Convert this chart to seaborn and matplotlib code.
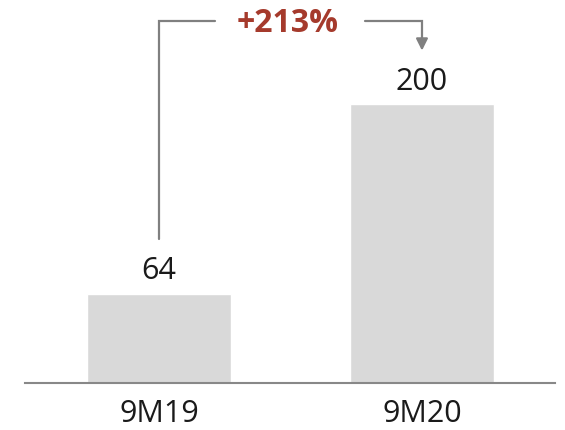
import numpy as np
import pandas as pd
import matplotlib.pyplot as plt
import seaborn as sns

# data
periods = ['9M19', '9M20']
values = [64, 200]
change_label = '+213%'

df = pd.DataFrame({'period': periods, 'value': values})

sns.set_style('white')
plt.rcParams['font.family'] = ['Open Sans', 'DejaVu Sans']

fig = plt.figure(figsize=(5.65, 4.31), dpi=100)
ax = fig.add_axes([25 / 565, 1 - 384 / 431, 530 / 565, 384 / 431])

sns.barplot(x='period', y='value', data=df, color='#d9d9d9', saturation=1,
            width=0.55, ax=ax)

# value labels above bars
ax.bar_label(ax.containers[0], labels=[str(v) for v in values],
             fontsize=22, color='#1a1a1a', padding=6)

ax.set_xlim(-0.51, 1.506)
ax.set_ylim(0, 275.5)
ax.set_xlabel('')
ax.set_ylabel('')
ax.set_yticks([])
ax.tick_params(axis='x', length=0, pad=11, labelsize=22, labelcolor='#1a1a1a')

for s in ['top', 'left', 'right']:
    ax.spines[s].set_visible(False)
ax.spines['bottom'].set_color('#888888')
ax.spines['bottom'].set_linewidth(1.5)

# growth bracket
line_col = '#808080'
y_top = 260
ax.plot([0, 0, 0.213], [values[0] + 39, y_top, y_top], color=line_col,
        lw=1.6, solid_joinstyle='miter', clip_on=False)
ax.plot([0.783, 1, 1], [y_top, y_top, 247], color=line_col,
        lw=1.6, solid_joinstyle='miter', clip_on=False)
ax.annotate('', xy=(1, 238.5), xytext=(1, 248),
            arrowprops=dict(arrowstyle='-|>,head_length=0.7,head_width=0.35',
                            color=line_col, lw=1.6, shrinkA=0, shrinkB=0))
ax.text(0.49, y_top - 1.5, change_label, ha='center', va='center', fontsize=23,
        fontweight='bold', color='#a53a2c')

fig.savefig('out.png', dpi=100)
